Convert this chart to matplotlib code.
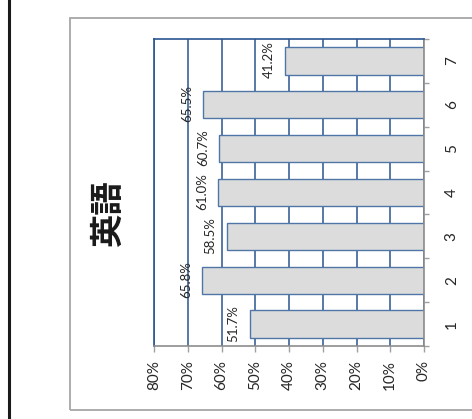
import matplotlib.pyplot as plt
from matplotlib.patches import Rectangle
from matplotlib.lines import Line2D
from matplotlib.ticker import MultipleLocator, FixedLocator

# Data (chart is shown rotated: values run right-to-left, categories bottom-to-top)
categories = [1, 2, 3, 4, 5, 6, 7]
values = [51.7, 65.8, 58.5, 61.0, 60.7, 65.5, 41.2]
value_ticks = [0, 10, 20, 30, 40, 50, 60, 70, 80]
title = '英語'

W, H = 472, 419
fig = plt.figure(figsize=(W / 100, H / 100), dpi=100)
fig.patch.set_facecolor('white')

# page border line and chart frame
fig.add_artist(Line2D([9 / W, 9 / W], [0, 1], color='#1a1a1a', lw=2.2, transform=fig.transFigure))
fig.add_artist(Rectangle((70 / W, 1 - 410 / H), 1.0, (410 - 18) / H, transform=fig.transFigure,
                         fill=False, edgecolor='#a6a6a6', lw=1.3))

ax = fig.add_axes([154 / W, 1 - 346 / H, (424 - 154) / W, (346 - 39) / H])
ax.set_axisbelow(True)

ax.barh(categories, values, height=0.62, color='#dcdcdc', edgecolor='#4f76a6', linewidth=1.0, zorder=2)

for c, v in zip(categories, values):
    ax.annotate(f'{v:.1f}%', (v, c), xytext=(-10, 1), textcoords='offset pixels',
                rotation=90, ha='right', va='center', fontsize=9.5, family='Lato',
                color='#262626', zorder=3)

ax.set_xlim(80, 0)
ax.set_ylim(0.5, 7.5)

ax.xaxis.set_major_locator(FixedLocator(value_ticks))
ax.set_xticklabels([f'{t}%' for t in value_ticks], rotation=90, family='Lato', fontsize=11, color='#262626')
ax.grid(axis='x', color='#2a5590', lw=1.1)

ax.yaxis.tick_right()
ax.set_yticks(categories)
ax.set_yticklabels([str(c) for c in categories], rotation=90, va='center', family='Lato',
                   fontsize=11, color='#262626')
ax.yaxis.set_minor_locator(MultipleLocator(1, offset=0.5))
ax.tick_params(axis='y', which='major', length=0, pad=15)
ax.tick_params(axis='y', which='minor', length=3.5, color='#a0a0a0', width=1, right=True, left=False)
ax.tick_params(axis='x', which='major', length=4, color='#a0a0a0', width=1, pad=6)

ax.spines['left'].set_color('#2a5590')
ax.spines['top'].set_color('#2a5590')
ax.spines['bottom'].set_color('#8c8c8c')
ax.spines['right'].set_color('#8c8c8c')
for s in ax.spines.values():
    s.set_linewidth(1.2)

fig.text(108 / W, 1 - 214 / H, title, rotation=90, ha='center', va='center',
         fontsize=24, fontweight='bold', family='Noto Sans CJK JP', color='#1a1a1a')

fig.savefig('out.png', dpi=100)
